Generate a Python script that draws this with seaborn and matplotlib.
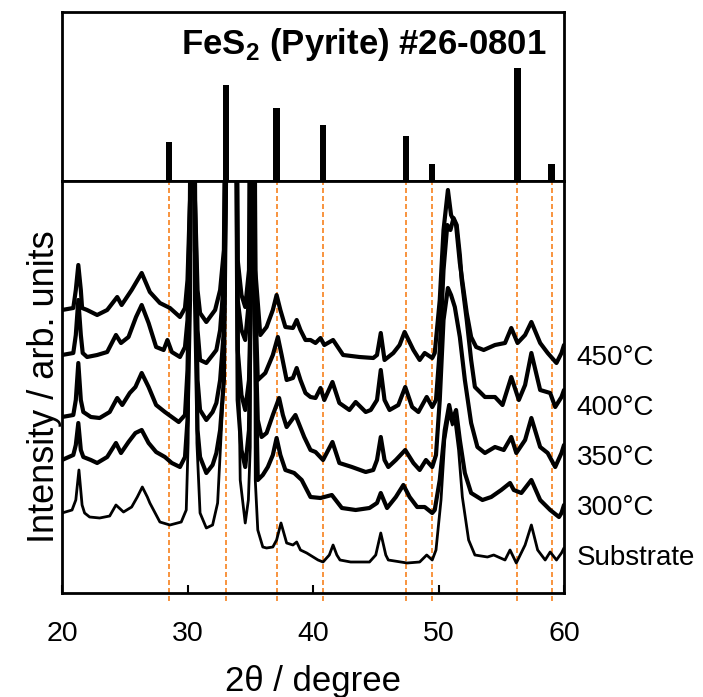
import matplotlib
matplotlib.use("Agg")
import matplotlib.pyplot as plt
import numpy as np
import pandas as pd
import seaborn as sns

# ---------------- data ----------------
# FeS2 (pyrite) reference pattern, JCPDS #26-0801
ref_2theta = [28.51, 33.08, 37.11, 40.78, 47.42, 49.50, 56.29, 59.02]
ref_intensity = [35, 85, 65, 50, 40, 15, 100, 15]

sample_labels = ["Substrate", "300°C", "350°C", "400°C", "450°C"]
stack_offsets = [0, 50, 100, 150, 200]

sub_x = [20.0, 20.8, 21.1, 21.35, 21.6, 21.8, 22.2, 23.0, 23.8, 24.3,
         24.9, 25.55, 26.0, 26.4, 26.8, 27.0, 27.8, 28.6, 29.5, 29.9,
         30.05, 30.2, 30.4, 30.6, 30.75, 31.0, 31.5, 32.0, 32.4, 32.9,
         33.1, 33.5, 33.9, 34.2, 34.6, 34.85, 35.0, 35.2, 35.4, 35.6,
         36.0, 36.3, 36.8, 37.1, 37.45, 37.9, 38.4, 38.7, 39.0, 39.5,
         40.4, 40.8, 41.3, 41.6, 41.9, 42.15, 43.0, 44.5, 45.0, 45.4,
         45.8, 46.0, 47.5, 48.5, 49.06, 49.5, 49.8, 50.2, 50.5, 50.85,
         51.1, 51.3, 51.6, 51.9, 52.4, 52.9, 53.9, 54.4, 55.3, 55.7,
         56.2, 56.9, 57.4, 57.9, 58.5, 58.9, 59.4, 59.8, 60.0]
sub_y = [80, 83, 93, 123, 88, 80, 76, 75, 77, 88,
         81, 86, 96, 106, 96, 90, 71, 68, 71, 83,
         150, 350, 900, 350, 150, 80, 65, 68, 90, 213,
         400, 900, 400, 113, 70, 93, 146, 900, 113, 63,
         46, 45, 46, 53, 70, 50, 48, 51, 43, 40,
         33, 31, 38, 48, 38, 33, 31, 31, 38, 60,
         38, 33, 30, 31, 38, 33, 43, 93, 153, 180,
         168, 173, 143, 96, 53, 38, 36, 38, 33, 43,
         30, 48, 68, 43, 33, 41, 33, 40, 45]

t300_x = [20.0, 20.9, 21.1, 21.3, 21.5, 21.7, 22.3, 22.8, 23.6, 24.3,
          24.7, 25.3, 25.85, 26.35, 26.9, 27.5, 28.2, 28.75, 29.4, 29.8,
          30.0, 30.2, 30.4, 30.6, 30.8, 31.0, 31.5, 32.0, 32.3, 32.6,
          32.9, 33.1, 33.5, 33.8, 34.0, 34.3, 34.6, 34.9, 35.05, 35.2,
          35.4, 35.6, 36.0, 36.4, 36.8, 37.1, 37.4, 37.8, 38.5, 39.1,
          39.8, 40.6, 41.5, 42.3, 43.4, 44.5, 45.1, 45.4, 45.9, 46.6,
          47.2, 47.7, 48.3, 48.9, 49.5, 49.7, 50.1, 50.5, 50.85, 51.1,
          51.4, 51.7, 52.1, 52.6, 53.5, 54.2, 55.0, 55.7, 56.0, 56.6,
          57.4, 58.1, 58.9, 59.6, 59.8, 60.0]
t300_y = [83, 88, 98, 120, 93, 86, 83, 80, 86, 100,
          90, 101, 110, 113, 100, 91, 86, 80, 76, 86,
          123, 243, 900, 243, 113, 86, 70, 78, 90, 113,
          163, 400, 900, 600, 143, 93, 76, 113, 243, 900,
          193, 63, 68, 76, 88, 105, 88, 73, 70, 63,
          46, 45, 48, 35, 33, 35, 40, 50, 35, 46,
          58, 46, 36, 36, 30, 33, 63, 113, 138, 123,
          133, 103, 70, 50, 43, 46, 53, 60, 53, 50,
          63, 43, 33, 26, 30, 38]

t350_x = [20.0, 20.9, 21.1, 21.3, 21.5, 21.7, 22.3, 23.0, 23.8, 24.4,
          24.8, 25.4, 25.85, 26.35, 26.9, 27.5, 28.2, 28.75, 29.3, 29.8,
          30.0, 30.2, 30.4, 30.6, 30.8, 31.0, 31.5, 32.0, 32.3, 32.6,
          32.9, 33.1, 33.5, 33.8, 34.0, 34.3, 34.6, 34.9, 35.05, 35.2,
          35.4, 35.6, 35.9, 36.3, 36.8, 37.3, 37.6, 37.9, 38.6, 39.3,
          39.8, 40.2, 40.8, 41.55, 42.1, 43.1, 44.2, 44.8, 45.1, 45.4,
          45.7, 46.0, 46.6, 47.35, 48.0, 48.5, 49.0, 49.5, 49.8, 50.1,
          50.4, 50.75, 51.0, 51.3, 51.7, 52.1, 52.6, 53.1, 53.7, 54.5,
          55.2, 55.8, 56.2, 56.9, 57.4, 58.1, 58.7, 59.3, 59.8, 60.0]
t350_y = [76, 78, 93, 130, 93, 81, 76, 75, 81, 95,
          88, 100, 106, 120, 106, 88, 81, 76, 71, 78,
          123, 243, 900, 243, 113, 83, 73, 81, 90, 113,
          163, 400, 900, 600, 143, 98, 83, 113, 193, 900,
          163, 73, 56, 60, 78, 95, 78, 66, 78, 56,
          43, 41, 33, 51, 30, 26, 21, 23, 33, 56,
          33, 26, 33, 43, 30, 23, 33, 26, 38, 93,
          173, 205, 198, 186, 156, 113, 70, 46, 40, 46,
          43, 56, 40, 53, 75, 46, 40, 26, 40, 48]

t400_x = [20.0, 20.9, 21.1, 21.3, 21.5, 21.65, 22.0, 22.8, 23.6, 24.3,
          24.7, 25.3, 25.9, 26.35, 26.9, 27.5, 28.1, 28.4, 28.75, 29.4,
          29.8, 30.0, 30.2, 30.4, 30.6, 30.8, 31.0, 31.5, 32.0, 32.3,
          32.6, 32.9, 33.1, 33.5, 33.8, 34.0, 34.3, 34.6, 34.9, 35.05,
          35.2, 35.4, 35.6, 36.2, 36.8, 37.2, 37.5, 37.9, 38.4, 38.7,
          39.0, 39.4, 39.8, 40.2, 40.6, 40.9, 41.55, 42.1, 42.9, 43.4,
          44.2, 44.6, 45.1, 45.4, 45.7, 46.1, 46.8, 47.35, 47.9, 48.4,
          49.06, 49.5, 49.8, 50.1, 50.4, 50.7, 50.95, 51.2, 51.45, 51.7,
          51.85, 52.25, 52.6, 52.9, 53.7, 54.5, 55.1, 55.8, 56.4, 56.9,
          57.4, 58.1, 58.9, 59.3, 59.8, 60.0]
t400_y = [88, 90, 108, 143, 108, 90, 86, 88, 91, 108,
          100, 106, 126, 138, 120, 96, 93, 103, 91, 86,
          96, 123, 243, 900, 243, 113, 83, 80, 88, 93,
          113, 163, 400, 900, 600, 143, 113, 103, 143, 250,
          900, 143, 63, 70, 88, 106, 88, 63, 65, 75,
          63, 50, 46, 45, 55, 43, 61, 40, 33, 41,
          31, 33, 43, 73, 43, 33, 38, 56, 36, 31,
          46, 36, 43, 93, 173, 218, 213, 225, 218, 188,
          163, 123, 83, 56, 46, 46, 38, 66, 43, 58,
          90, 53, 50, 36, 46, 53]

t450_x = [20.0, 20.9, 21.1, 21.3, 21.5, 21.6, 22.0, 22.8, 23.6, 24.4,
          24.75, 25.55, 26.35, 27.0, 27.8, 28.6, 29.4, 29.8, 30.0, 30.2,
          30.4, 30.6, 30.8, 31.0, 31.5, 32.2, 32.6, 32.9, 33.1, 33.5,
          33.8, 34.0, 34.3, 34.6, 34.9, 35.2, 35.4, 35.8, 36.3, 36.8,
          37.1, 37.4, 37.8, 38.4, 38.7, 39.0, 39.4, 39.8, 40.2, 40.6,
          40.9, 41.6, 42.4, 43.7, 44.8, 45.1, 45.4, 45.7, 46.4, 46.9,
          47.3, 48.0, 48.5, 48.9, 49.5, 49.7, 50.1, 50.4, 50.75, 51.0,
          51.2, 51.4, 51.7, 52.25, 52.6, 53.0, 53.6, 54.5, 55.3, 55.8,
          56.3, 56.9, 57.4, 58.1, 58.7, 59.4, 59.8, 60.0]
t450_y = [83, 85, 103, 128, 103, 85, 83, 78, 83, 96,
          88, 103, 120, 101, 90, 85, 76, 85, 113, 193,
          900, 193, 103, 80, 71, 83, 103, 143, 400, 900,
          600, 133, 98, 86, 123, 900, 123, 58, 66, 83,
          98, 83, 66, 65, 73, 63, 53, 53, 50, 55,
          48, 53, 38, 36, 35, 38, 60, 33, 40, 48,
          61, 43, 33, 40, 35, 40, 93, 163, 203, 178,
          173, 168, 130, 80, 56, 46, 43, 48, 50, 65,
          50, 58, 71, 50, 40, 30, 40, 48]

curves_x = [sub_x, t300_x, t350_x, t400_x, t450_x]
curves_y = [sub_y, t300_y, t350_y, t400_y, t450_y]

# ---------------- style ----------------
sns.set_theme(style="ticks")
plt.rcParams["font.family"] = ["Liberation Sans", "DejaVu Sans"]
plt.rcParams["mathtext.fontset"] = "custom"
plt.rcParams["mathtext.rm"] = "Liberation Sans"
plt.rcParams["mathtext.bf"] = "Liberation Sans:bold"
plt.rcParams["text.color"] = "black"
plt.rcParams["axes.labelcolor"] = "black"
plt.rcParams["xtick.color"] = "black"
plt.rcParams["ytick.color"] = "black"

fig = plt.figure(figsize=(7.03, 6.97), dpi=100)
W, H = 703, 697
left, right = 62, 564
ax_top = fig.add_axes([left / W, 1 - 181 / H, (right - left) / W, 169 / H])
ax_bot = fig.add_axes([left / W, 1 - 593 / H, (right - left) / W, 412 / H])

for ax in (ax_top, ax_bot):
    ax.set_xlim(20, 60)
    for sp in ax.spines.values():
        sp.set_linewidth(2.0)
        sp.set_color("black")
        sp.set_visible(True)
    ax.set_facecolor("white")

# reference bars
ax_top.bar(ref_2theta, ref_intensity, width=0.52, color="black", edgecolor="none")
ax_top.set_ylim(0, 150)
ax_top.set_xticks([])
ax_top.set_yticks([])
ax_top.text(0.966, 0.75, r"FeS$_{\mathbf{2}}$ (Pyrite) #26-0801",
            transform=ax_top.transAxes, ha="right", va="baseline",
            fontsize=25, fontweight="bold", color="black")

# dashed reference lines
for xr in ref_2theta:
    ax_bot.axvline(xr, ymin=-0.02, ymax=1, color="#f7821e", lw=1.2,
                   ls=(0, (3, 1.8)), clip_on=False, zorder=1)

# spectra
for i, (xs, ys) in enumerate(zip(curves_x, curves_y)):
    df = pd.DataFrame({"two_theta": xs,
                       "intensity": np.asarray(ys, float) + stack_offsets[i]})
    sns.lineplot(data=df, x="two_theta", y="intensity", ax=ax_bot,
                 color="black", lw=(2.0 if i == 0 else 3.0),
                 estimator=None, sort=False, zorder=3,
                 solid_joinstyle="round", solid_capstyle="round")
    ax_bot.text(61.0, stack_offsets[i] + 35, sample_labels[i], fontsize=20,
                va="center", ha="left", clip_on=False, color="black")

ax_bot.set_ylim(0, 412)
ax_bot.set_yticks([])
ax_bot.set_xticks([20, 30, 40, 50, 60])
ax_bot.tick_params(axis="x", direction="in", length=6, width=1.5,
                   labelsize=20.5, pad=20, color="black", labelcolor="black")
ax_bot.set_xlabel("2θ / degree", fontsize=25, labelpad=13)
ax_bot.set_ylabel("Intensity / arb. units", fontsize=26, labelpad=0)

fig.savefig("out.png", dpi=100)
